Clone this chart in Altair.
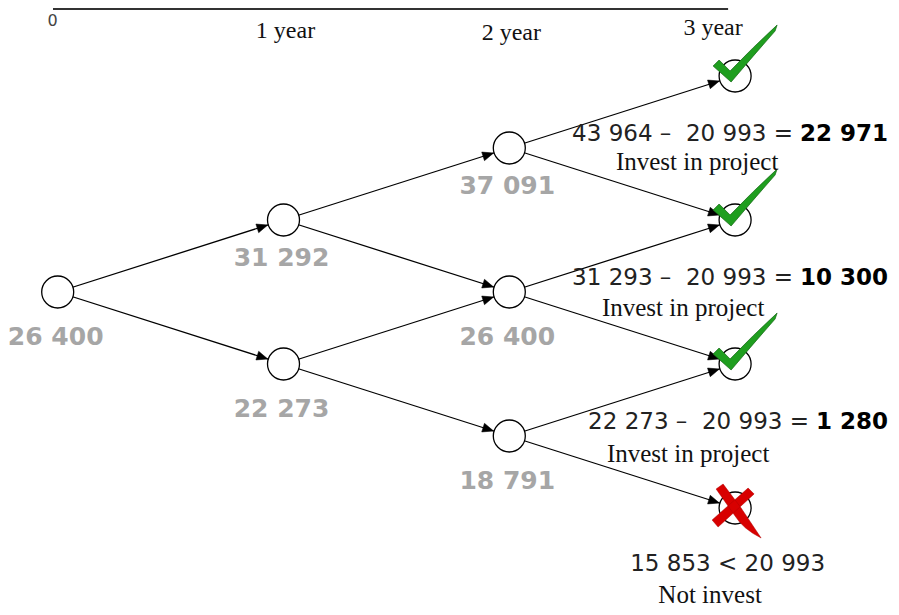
import math
import altair as alt
import pandas as pd

# ---------------- data ----------------
years = [0, 1, 2, 3]
node_values = [
    [26400],
    [31292, 22273],
    [37091, 26400, 18791],
    [43964, 31293, 22273, 15853],
]
year_labels = ["0", "1 year", "2 year", "3 year"]
strike = 20993
payoffs = [22971, 10300, 1280]
decisions = ["Invest in project", "Invest in project", "Invest in project", "Not invest"]

# ---------------- layout ----------------
W, H = 883, 599
# x in "years", y in "levels" (up moves minus down moves)
X0_PX, X_UNIT = 57.7, 225.8
Y0_PX, Y_UNIT = 292.0, 72.0
X_DOM = [(8 - X0_PX) / X_UNIT, (891 - X0_PX) / X_UNIT]
Y_DOM = [(Y0_PX - 607) / Y_UNIT, (Y0_PX - 8) / Y_UNIT]
PX_X = W / (X_DOM[1] - X_DOM[0])
PX_Y = H / (Y_DOM[1] - Y_DOM[0])
R = 16


def fmt(v):
    return f"{v:,}".replace(",", " ")


def bold_width(s, fs=23):
    return sum(0.348 * fs if c == " " else 0.696 * fs for c in s)


xs = alt.Scale(domain=X_DOM)
ys = alt.Scale(domain=Y_DOM)
X = lambda f="x": alt.X(f"{f}:Q", scale=xs, axis=None)
Y = lambda f="y": alt.Y(f"{f}:Q", scale=ys, axis=None)

# nodes
nodes = []
for t, vals in zip(years, node_values):
    for i, v in enumerate(vals):
        nodes.append({"x": t, "y": t - 2 * i, "t": t, "i": i, "value": v})
nodes_df = pd.DataFrame(nodes)

# edges + arrow tips
edges, tips = [], []
for t in years[:-1]:
    for i in range(t + 1):
        for j in (i, i + 1):
            x1, y1 = t, t - 2 * i
            x2, y2 = t + 1, t + 1 - 2 * j
            dxp = (x2 - x1) * PX_X
            dyp = (y2 - y1) * PX_Y
            L = math.hypot(dxp, dyp)
            f = (R + 0.5) / L
            edges.append({"x": x1, "y": y1, "x2": x2, "y2": y2})
            tips.append({
                "x": x2 - f * (x2 - x1),
                "y": y2 - f * (y2 - y1),
                "angle": math.degrees(math.atan2(-dyp, dxp)) % 360,
            })
edges_df = pd.DataFrame(edges)
tips_df = pd.DataFrame(tips)

edge_layer = alt.Chart(edges_df).mark_rule(color="#000000", strokeWidth=1.3).encode(
    x=X(), y=Y(), x2="x2:Q", y2="y2:Q"
)

circle_layer = alt.Chart(nodes_df).mark_point(
    shape="circle", size=(2 * R) ** 2, filled=True, fill="#ffffff",
    stroke="#000000", strokeWidth=1.3, opacity=1
).encode(x=X(), y=Y())

ARROW = "M 0 0 L -11 -4.5 L -11 4.5 Z"
tip_layer = alt.Chart(tips_df).mark_point(
    shape=ARROW, size=4, filled=True, fill="#000000", stroke="#000000",
    strokeWidth=0.5, opacity=1
).encode(x=X(), y=Y(), angle=alt.Angle("angle:Q", scale=None))

# check marks / cross on terminal nodes
term = nodes_df[nodes_df.t == 3].copy()
term["ok"] = [v > strike for v in term["value"]]
CHECK = "M -22 -10 L -16 -16 L -5 -5 Q 18 -29 42 -51 L 40 -45 Q 18 -20 -4 6 Z"
CROSS = ("M -19 -19 L -12 -24 L 6 0 Q 14 12 26 30 Q 8 21 0 8 Z "
         "M 13 -20 L 19 -14 L -17 19 L -23 12 Z")
check_layer = alt.Chart(term[term.ok]).mark_point(
    shape=CHECK, size=4, filled=True, fill="#1f9e1f", stroke="#146614",
    strokeWidth=0.7, opacity=1
).encode(x=X(), y=Y())
cross_layer = alt.Chart(term[~term.ok]).mark_point(
    shape=CROSS, size=4, filled=True, fill="#d80000", stroke="#b00000",
    strokeWidth=0.5, opacity=1
).encode(x=X(), y=Y())

# gray node value labels
lab = nodes_df[nodes_df.t < 3].copy()
lab["ly"] = [y - (38 if (i == 0 and t > 0) else 45) / Y_UNIT
             for y, i, t in zip(lab.y, lab.i, lab.t)]
lab["text"] = [fmt(v) for v in lab.value]
value_layer = alt.Chart(lab).mark_text(
    font="DejaVu Sans", fontSize=25, fontWeight="bold", color="#a6a6a6",
    align="center", baseline="middle", dx=-2
).encode(x=X(), y=Y("ly"), text="text:N")

# equations
eq_rows, bold_rows = [], []
for (_, r), p in zip(term[term.ok].iterrows(), payoffs):
    b = fmt(p)
    right = 153
    ly = r.y - 58 / Y_UNIT
    bold_rows.append({"x": r.x + right / X_UNIT, "y": ly, "text": b})
    eq_rows.append({
        "x": r.x + (right - bold_width(b) - 7) / X_UNIT, "y": ly,
        "text": f"{fmt(r.value)} \u2013\u00a0 {fmt(strike)} =",
    })
rb = term[~term.ok].iloc[0]
cmp_row = pd.DataFrame([{
    "x": rb.x - 7.5 / X_UNIT, "y": rb.y - 56 / Y_UNIT,
    "text": f"{fmt(rb.value)} < {fmt(strike)}",
}])
eq_layer = alt.Chart(pd.DataFrame(eq_rows)).mark_text(
    font="DejaVu Sans", fontSize=23, color="#222222", align="right", baseline="middle"
).encode(x=X(), y=Y(), text="text:N")
bold_layer = alt.Chart(pd.DataFrame(bold_rows)).mark_text(
    font="DejaVu Sans", fontSize=23, fontWeight="bold", color="#000000",
    align="right", baseline="middle"
).encode(x=X(), y=Y(), text="text:N")
cmp_layer = alt.Chart(cmp_row).mark_text(
    font="DejaVu Sans", fontSize=23, color="#222222", align="center", baseline="middle"
).encode(x=X(), y=Y(), text="text:N")

# decisions
dec_dx = [-38, -52, -47, -25]
dec_dy = [86, 88, 90, 87]
dec_df = pd.DataFrame([
    {"x": r.x + dx / X_UNIT, "y": r.y - dy / Y_UNIT, "text": d}
    for (_, r), d, dx, dy in zip(term.iterrows(), decisions, dec_dx, dec_dy)
])
dec_layer = alt.Chart(dec_df).mark_text(
    font="Liberation Serif", fontSize=25, color="#111111", align="center", baseline="middle"
).encode(x=X(), y=Y(), text="text:N")

# time axis header
yl_dx = [0, 2, 2, -22]
yl_py = [21, 31, 33, 28]
yl_df = pd.DataFrame([
    {"x": t + dx / X_UNIT, "y": (Y0_PX - py) / Y_UNIT, "text": s}
    for t, s, dx, py in zip(years, year_labels, yl_dx, yl_py)
])
year_layer = alt.Chart(yl_df[yl_df.text != "0"]).mark_text(
    font="Liberation Serif", fontSize=24, color="#111111", align="center", baseline="middle"
).encode(x=X(), y=Y(), text="text:N")
zero_layer = alt.Chart(yl_df[yl_df.text == "0"]).mark_text(
    font="DejaVu Sans", fontSize=16, color="#444444", align="center", baseline="middle", dx=-5
).encode(x=X(), y=Y(), text="text:N")
top_rule = alt.Chart(pd.DataFrame([{"x": years[0] - 4.7 / X_UNIT, "x2": years[-1] - 7 / X_UNIT,
                                    "y": (Y0_PX - 9) / Y_UNIT}])).mark_rule(
    color="#333333", strokeWidth=2
).encode(x=X(), x2="x2:Q", y=Y())

chart = alt.layer(
    top_rule, edge_layer, circle_layer, tip_layer, check_layer, cross_layer,
    value_layer, eq_layer, bold_layer, cmp_layer, dec_layer, year_layer, zero_layer
).properties(
    width=W, height=H, padding=0, autosize=alt.AutoSizeParams(type="none"),
    background="#ffffff"
).configure_view(stroke=None)

chart.save("out.html", embed_options={"renderer": "svg", "actions": False})
